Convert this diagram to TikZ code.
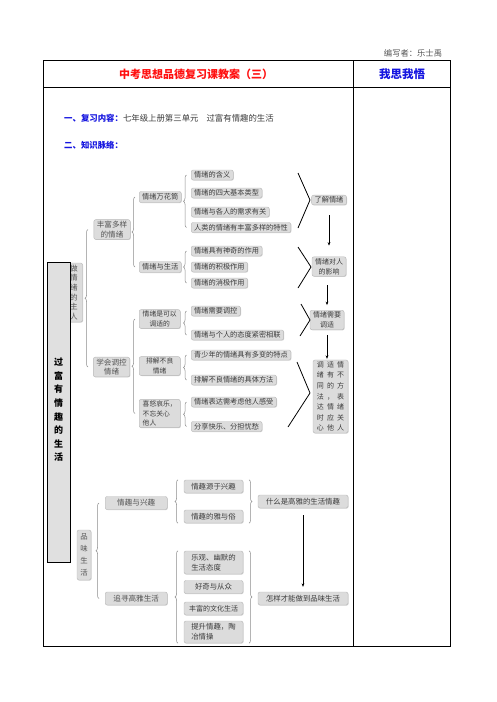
\documentclass[tikz,border=0pt]{standalone}
\usepackage{fontspec}
\setmainfont{Noto Sans CJK SC}
\usetikzlibrary{decorations.pathreplacing,arrows.meta,shadows}
\definecolor{nodefill}{HTML}{DCDCDC}
\definecolor{nodeline}{HTML}{B8B8B8}
\definecolor{txt}{HTML}{3C3C3C}
\definecolor{txtb}{HTML}{555555}
\definecolor{brcol}{HTML}{8C8C8C}
\definecolor{titlered}{HTML}{FF1010}
\definecolor{titleblue}{HTML}{1515E0}
\definecolor{sidefill}{HTML}{E0E0E0}
\newcommand{\trio}[3]{#1\hspace{3.2pt}#2\hspace{3.2pt}#3}
\tikzset{
  box/.style={draw=nodeline, fill=nodefill, rounded corners=2pt, line width=0.4pt,
    inner xsep=3pt, inner ysep=1.5pt, text=txt, font=\fontsize{7.2}{8.6}\selectfont,
    drop shadow={shadow xshift=0.6pt, shadow yshift=-0.6pt, opacity=0.35}},
  leaf/.style={box, anchor=west, minimum height=10pt},
  midbox/.style={box, anchor=west, minimum width=41pt, align=center, font=\fontsize{6.8}{9.5}\selectfont},
  topbox/.style={box, text=txtb, align=center, font=\fontsize{7.6}{9.6}\selectfont},
  lowbox/.style={box, minimum height=13pt, font=\fontsize{7.4}{10}\selectfont},
  brc/.style={draw=brcol, line width=0.5pt, decorate, decoration={brace, amplitude=3pt}},
  chev/.style={draw=black, line width=0.8pt},
  arr/.style={draw=black, line width=0.5pt, -{Stealth[length=3.5pt,width=2.8pt]}},
  tline/.style={draw=black, line width=0.8pt}
}
\begin{document}
\begin{tikzpicture}[x=1pt,y=-1pt]
\useasboundingbox (0,0) rectangle (496,702);
\fill[white] (0,0) rectangle (496,702);

% header text
\node[text=txtb, font=\fontsize{8.3}{10}\selectfont] (author) at (413,53) {编写者：乐士禹};

% table
\draw[tline] (43.5,60.5) rectangle (450,646.5);
\draw[tline] (43.5,87) -- (450,87);
\draw[tline] (353,60.5) -- (353,646.5);

\node[text=titlered, font=\fontsize{11}{13}\selectfont\bfseries] (title) at (196,74) {中考思想品德复习课教案（三）};
\node[text=titleblue, font=\fontsize{11.5}{13}\selectfont\bfseries] (wsww) at (402,74) {我思我悟};

\node[anchor=west, inner sep=0pt, text=txt, font=\fontsize{8.4}{10}\selectfont] (content) at (64,118)
  {{\color{titleblue}\bfseries 一、复习内容：}七年级上册第三单元\hspace{8pt}过富有情趣的生活};
\node[anchor=west, inner sep=0pt, text=titleblue, font=\fontsize{8.4}{10}\selectfont\bfseries] (mailuo) at (64,145) {二、知识脉络：};

% root node (partly covered by side box)
\node[box, text=txtb, minimum width=17pt, minimum height=59pt, inner sep=1pt, align=center,
  font=\fontsize{7.6}{9.7}\selectfont] (root) at (74,292.5) {做\\情\\绪\\的\\主\\人};

% side box
\node[draw=black, line width=0.8pt, fill=sidefill, minimum width=23pt, minimum height=300pt,
  inner sep=0pt] (side) at (58.5,412) {};
\node[align=center, font=\fontsize{9}{13.6}\selectfont\bfseries, text=black] (sidetext) at (58.5,410)
  {过\\富\\有\\情\\趣\\的\\生\\活};

% level 1
\node[topbox] (fengfu) at (112,229.5) {丰富多样\\的情绪};
\node[topbox] (xuehui) at (111.5,367) {学会调控\\情绪};

% level 2
\node[box, anchor=west, minimum height=11pt] (wanhua) at (139,197) {情绪万花筒};
\node[box, anchor=west, minimum height=11pt] (shenghuo) at (139,267) {情绪与生活};
\node[midbox] (ketiao) at (139,319) {情绪是可以\\调适的};
\node[midbox] (paijie) at (139,366) {排解不良\\情绪};
\node[midbox, align=left] (xinu) at (139,413.5) {喜怒哀乐，\\不忘关心\\他人};

% leaves
\node[leaf] (l1) at (191,175) {情绪的含义};
\node[leaf] (l2) at (191,193) {情绪的四大基本类型};
\node[leaf] (l3) at (191,212) {情绪与各人的需求有关};
\node[leaf] (l4) at (191,227.5) {人类的情绪有丰富多样的特性};
\node[leaf] (l5) at (191,251) {情绪具有神奇的作用};
\node[leaf] (l6) at (191,267) {情绪的积极作用};
\node[leaf] (l7) at (191,283) {情绪的消极作用};
\node[leaf] (m1) at (191,311) {情绪需要调控};
\node[leaf] (m2) at (191,335) {情绪与个人的态度紧密相联};
\node[leaf] (m3) at (191,355) {青少年的情绪具有多变的特点};
\node[leaf] (m4) at (191,380) {排解不良情绪的具体方法};
\node[leaf] (m5) at (191,402) {情绪表达需考虑他人感受};
\node[leaf] (m6) at (191,426.5) {分享快乐、分担忧愁};

% right column
\node[box] (liaojie) at (329,200) {了解情绪};
\node[box, align=center, font=\fontsize{7}{10}\selectfont] (yingxiang) at (329,266.5) {情绪对人\\的影响};
\node[box, align=center, font=\fontsize{7}{10}\selectfont] (tiaoshi) at (327,320) {情绪需要\\调适};
\node[box, align=center, minimum width=35pt, font=\fontsize{7}{10.6}\selectfont] (fangfa) at (330.5,396.5)
  {\trio{调}{适}{情}\\\trio{绪}{有}{不}\\\trio{同}{的}{方}\\\trio{法}{，}{表}\\\trio{达}{情}{绪}\\\trio{时}{应}{关}\\\trio{心}{他}{人}};

% braces upper part
\coordinate (bx0) at (88,0);
\coordinate (bx1) at (135,0);
\coordinate (bx2) at (186.5,0);
\draw[brc] (xuehui.west -| bx0) -- (fengfu.west -| bx0);
\draw[brc] (shenghuo.west -| bx1) -- (wanhua.west -| bx1);
\draw[brc] (xinu.west -| bx1) -- (ketiao.west -| bx1);
\draw[brc] (l4.west -| bx2) -- (l1.west -| bx2);
\draw[brc] (l7.west -| bx2) -- (l5.west -| bx2);
\draw[brc] (m2.west -| bx2) -- (m1.west -| bx2);
\draw[brc] (m4.west -| bx2) -- (m3.west -| bx2);
\draw[brc] (m6.west -| bx2) -- (m5.west -| bx2);

% chevrons
\draw[chev] (298,173) -- (310,200) -- (298,228);
\draw[chev] (298,247) -- (311,267) -- (298,288);
\draw[chev] (301,304) -- (310,320) -- (300,336);
\draw[chev] (297,362) -- (310,393) -- (288,427);

% arrows
\draw[arr, shorten <=10pt, shorten >=11pt] (liaojie.south) -- (liaojie.south |- yingxiang.north);
\draw[arr, shorten <=9pt, shorten >=5pt] (yingxiang.south -| tiaoshi.north) -- (tiaoshi.north);
\draw[arr, shorten <=5pt, shorten >=1pt] (tiaoshi.south) -- (tiaoshi.south |- fangfa.north);

% lower part
\node[box, text=txtb, minimum width=14pt, minimum height=50pt, inner sep=1pt, align=center,
  font=\fontsize{7.4}{11.8}\selectfont] (pinwei) at (84,555) {品\\味\\生\\活};
\node[lowbox, anchor=west, minimum width=62pt, text=txtb, font=\fontsize{7.6}{10}\selectfont] (qingqu) at (105,503) {情趣与兴趣};
\node[lowbox, anchor=west, minimum width=62pt, text=txtb, font=\fontsize{7.6}{10}\selectfont] (zhuixun) at (105,598.5) {追寻高雅生活};

\node[lowbox, minimum width=59pt] (s1) at (213.5,486.5) {情趣源于兴趣};
\node[lowbox, minimum width=59pt] (s2) at (213.5,516.5) {情趣的雅与俗};
\node[lowbox, minimum width=59pt, minimum height=23pt, align=left] (t1) at (213.5,562.5) {乐观、幽默的\\生活态度};
\node[lowbox, minimum width=59pt] (t2) at (213.5,587) {好奇与从众};
\node[lowbox, minimum width=59pt, font=\fontsize{7}{10}\selectfont] (t3) at (213.5,608.5) {丰富的文化生活};
\node[lowbox, minimum width=59pt, minimum height=22pt, align=left] (t4) at (213.5,632) {提升情趣，陶\\冶情操};

\node[lowbox, minimum width=90pt] (shenme) at (303,501.5) {什么是高雅的生活情趣};
\node[lowbox, minimum width=90pt] (zenyang) at (303,598.5) {怎样才能做到品味生活};

\coordinate (bx3) at (99,0);
\coordinate (bx4) at (178,0);
\coordinate (bx5) at (249,0);
\draw[brc] (zhuixun.west -| bx3) -- (qingqu.west -| bx3);
\draw[brc] (s2.south -| bx4) -- (s1.north -| bx4);
\draw[brc] (s1.north -| bx5) -- (s2.south -| bx5);
\draw[brc] (t4.south -| bx4) -- (t1.north -| bx4);
\draw[brc] (t1.north -| bx5) -- (t4.south -| bx5);

\draw[arr, shorten <=7pt, shorten >=5pt] (shenme.south) -- (zenyang.north);
\end{tikzpicture}
\end{document}
